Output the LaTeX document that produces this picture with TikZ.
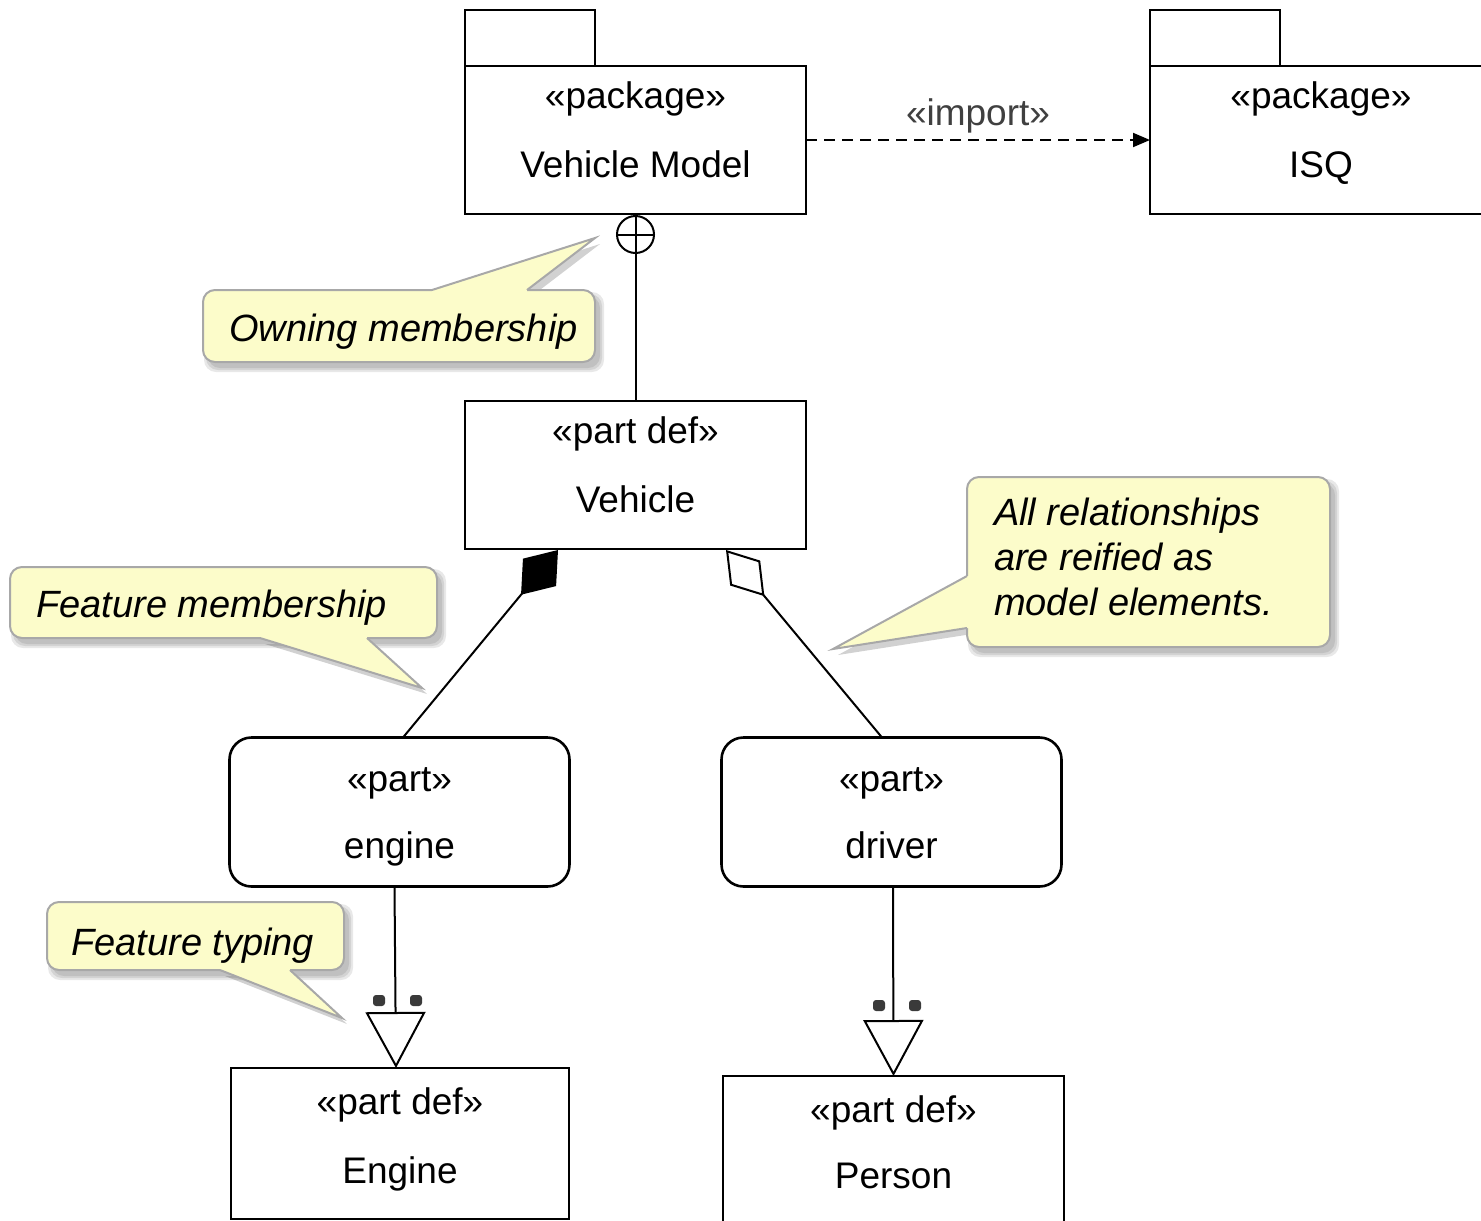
\documentclass[tikz,border=0pt]{standalone}
\usepackage{fontspec}
\setmainfont{Liberation Sans}
\usetikzlibrary{arrows.meta,calc,backgrounds}
\definecolor{notefill}{RGB}{252,252,202}
\definecolor{noteedge}{RGB}{168,168,168}
\definecolor{importgray}{RGB}{64,64,64}
\definecolor{dotgray}{RGB}{58,58,58}

% soft drop shadow for a note and its pointer: node, base point, tip, base point
\newcommand\notedrop[4]{%
  \foreach \e in {0,2,4}{
    \fill[black, opacity=0.09, rounded corners=12pt]
      ([shift={(5-\e,6+\e)}]#1.south west) rectangle ([shift={(5+\e,6-\e)}]#1.north east);
  }
  \fill[black, opacity=0.18] ([shift={(5,6)}]#2) -- ([shift={(5,6)}]#3) -- ([shift={(5,6)}]#4) -- cycle;
}
% pointer of a note: base point, tip, base point, inward offset
\newcommand\notetip[4]{%
  \fill[notefill] ($(#1)+#4$) -- (#1) -- (#2) -- (#3) -- ($(#3)+#4$) -- cycle;
  \draw[noteline] (#1) -- (#2) -- (#3);
}

\begin{document}
\begin{tikzpicture}[x=1pt,y=-1pt,
  box/.style={draw, line width=2.6pt, fill=white, inner sep=0pt, outer sep=0pt},
  usage/.style={box, rounded corners=22pt},
  note/.style={draw=noteedge, line width=2pt, fill=notefill, rounded corners=12pt, inner sep=0pt, outer sep=0pt},
  noteline/.style={draw=noteedge, line width=2pt, line join=miter},
  lbl/.style={anchor=base, inner sep=0pt, font=\fontsize{37}{44}\selectfont},
  notetext/.style={anchor=base west, inner sep=0pt, align=left,
    font=\fontsize{38}{45}\selectfont\itshape},
  conn/.style={line width=2pt},
  typing/.style={conn, -{Triangle[length=56pt,width=60pt,fill=white]}},
  tdot/.style={fill=dotgray, rounded corners=3pt},
]
\clip (0,0) rectangle (1481,1221);
\useasboundingbox (0,0) rectangle (1481,1221);

% ---- packages ----
\node[box, minimum width=341pt, minimum height=148pt] (vm) at (635.5,140) {};
\draw[line width=2.6pt] (vm.north west) rectangle ++(130,-56);
\node[lbl] at (635.5,108) {«package»};
\node[lbl] at (635.5,177) {Vehicle Model};

\node[box, minimum width=342pt, minimum height=148pt] (isq) at (1321,140) {};
\draw[line width=2.6pt] (isq.north west) rectangle ++(130,-56);
\node[lbl] at (1321,108) {«package»};
\node[lbl] at (1321,177) {ISQ};

% ---- definitions and usages ----
\node[box, minimum width=341pt, minimum height=148pt] (veh) at (635.5,475) {};
\node[lbl] at (635.5,443) {«part def»};
\node[lbl] at (635.5,512) {Vehicle};

\node[usage, minimum width=340pt, minimum height=149pt] (epart) at (399.5,812) {};
\node[lbl] at (399.5,791) {«part»};
\node[lbl] at (399.5,858) {engine};

\node[usage, minimum width=340pt, minimum height=149pt] (driver) at (891.5,812) {};
\node[lbl] at (891.5,791) {«part»};
\node[lbl] at (891.5,858) {driver};

\node[box, minimum width=338pt, minimum height=151pt] (edef) at (400,1143.5) {};
\node[lbl] at (400,1114) {«part def»};
\node[lbl] at (400,1183) {Engine};

\node[box, minimum width=341pt, minimum height=152pt] (person) at (893.5,1152) {};
\node[lbl] at (893.5,1122) {«part def»};
\node[lbl] at (893.5,1188) {Person};

% ---- relationships ----
\draw[conn, dash pattern=on 11pt off 7pt, -{Triangle[length=17pt,width=14pt]}]
  (vm.east) -- node[midway, anchor=base, yshift=15pt, inner sep=0pt,
    font=\fontsize{37}{44}\selectfont, text=importgray] {«import»} (isq.west);

\node[draw, circle, line width=2pt, fill=white, minimum size=37pt, inner sep=0pt,
  anchor=north] (ownc) at ([yshift=-1pt]vm.south) {};
\draw[conn] (veh.north) -- (ownc.north);
\draw[conn] (ownc.west) -- (ownc.east);

\draw[conn, -{Diamond[length=58pt,width=43pt]}]
  ([xshift=3.5pt]epart.north) -- ([xshift=-77.5pt,yshift=-1pt]veh.south);
\draw[conn, -{Diamond[length=60pt,width=39pt,fill=white]}]
  ([xshift=-9.5pt]driver.north) -- ([xshift=90.5pt,yshift=-1pt]veh.south);

\draw[typing] ([xshift=-5pt]epart.south) -- ([xshift=-4pt]edef.north);
\fill[tdot] (373,995) rectangle (385,1006);
\fill[tdot] (410,995) rectangle (422,1006);

\draw[typing] ([xshift=1.5pt]driver.south) -- (person.north);
\fill[tdot] (873,1000) rectangle (885,1011);
\fill[tdot] (909,1000) rectangle (921,1011);

% ---- notes ----
\node[note, minimum width=392pt, minimum height=72pt] (nown) at (399,326) {};
\coordinate (ownA) at (432,290);
\coordinate (ownT) at (595,238);
\coordinate (ownB) at (527,290);
\notetip{ownA}{ownT}{ownB}{(0,3)}
\node[notetext] at (229,341) {Owning membership};

\node[note, minimum width=427pt, minimum height=71pt] (nfm) at (223.5,602.5) {};
\coordinate (fmA) at (260,638);
\coordinate (fmT) at (422,688);
\coordinate (fmB) at (367,638);
\notetip{fmA}{fmT}{fmB}{(0,-3)}
\node[notetext] at (36,617) {Feature membership};

\node[note, minimum width=297pt, minimum height=68pt] (nft) at (195.5,936) {};
\coordinate (ftA) at (220,970);
\coordinate (ftT) at (342,1018);
\coordinate (ftB) at (290,970);
\notetip{ftA}{ftT}{ftB}{(0,-3)}
\node[notetext] at (71,955) {Feature typing};

\node[note, minimum width=363pt, minimum height=170pt] (nrel) at (1148.5,562) {};
\coordinate (relA) at (967,576);
\coordinate (relT) at (833,649);
\coordinate (relB) at (967,628);
\notetip{relA}{relT}{relB}{(3,0)}
% the base of a multi-line node is the baseline of its last line
\node[notetext] at (994,615) {All relationships\\are reified as\\model elements.};

% ---- shadows behind the notes ----
\begin{scope}[on background layer]
  \notedrop{nown}{ownA}{ownT}{ownB}
  \notedrop{nfm}{fmA}{fmT}{fmB}
  \notedrop{nft}{ftA}{ftT}{ftB}
  \notedrop{nrel}{relA}{relT}{relB}
\end{scope}
\end{tikzpicture}
\end{document}
